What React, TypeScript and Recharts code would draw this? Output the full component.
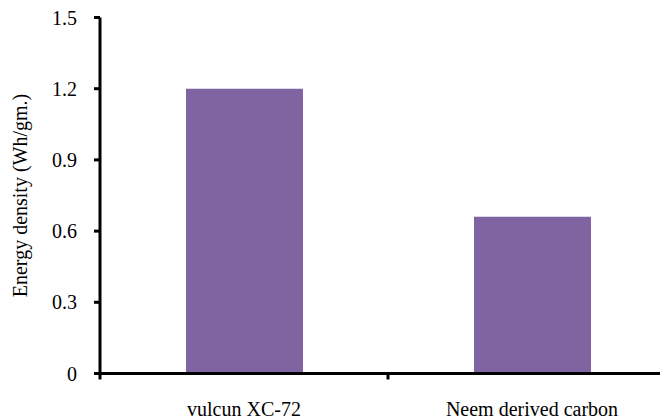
import React from 'react'
import { BarChart, Bar, XAxis, YAxis, Label } from 'recharts'

const categories = ['vulcun XC-72', 'Neem derived carbon']
const energyDensity = [1.2, 0.66]
const yTicks = [0, 0.3, 0.6, 0.9, 1.2, 1.5]

const data = categories.map((name, i) => ({ name, value: energyDensity[i] }))

const FONT = "'Liberation Serif', 'Times New Roman', Times, serif"
const BAND = 288

// category label + tick mark at the left edge of each band
function CategoryTick(props: any) {
  const { x, y, payload } = props
  return (
    <g>
      <line x1={x - BAND / 2} y1={y - 1} x2={x - BAND / 2} y2={y + 6} stroke="#000" strokeWidth={3} />
      <text x={x} y={y + 42} textAnchor="middle" style={{ fontFamily: FONT, fontSize: 20 }} fill="#000">
        {payload.value}
      </text>
    </g>
  )
}

export default function App() {
  return (
    <div style={{ width: 660, height: 411, overflow: 'hidden', fontFamily: FONT }}>
      <BarChart
        width={680}
        height={411}
        data={data}
        margin={{ top: 9.5, right: 12, left: 0, bottom: 1.5 }}
        style={{ fontFamily: FONT }}
      >
        <XAxis
          dataKey="name"
          height={44}
          axisLine={{ stroke: '#000', strokeWidth: 3 }}
          tickLine={false}
          tickSize={0}
          tickMargin={0}
          tick={<CategoryTick />}
          interval={0}
        />
        <YAxis
          width={92}
          domain={[0, 1.5]}
          ticks={yTicks}
          interval={0}
          axisLine={{ stroke: '#000', strokeWidth: 3 }}
          tickLine={{ stroke: '#000', strokeWidth: 3 }}
          tickSize={6}
          tickMargin={17}
          tickFormatter={(v: number) => (v === 0 ? '0' : v.toFixed(1))}
          tick={{ fontSize: 20, fill: '#000', style: { fontFamily: FONT } }}
        >
          <Label
            content={(p: any) => {
              const vb = p.viewBox
              const cx = 12
              const cy = vb.y + vb.height / 2
              return (
                <text
                  x={cx}
                  y={cy}
                  transform={`rotate(-90, ${cx}, ${cy})`}
                  textAnchor="middle"
                  dominantBaseline="central"
                  style={{ fontFamily: FONT, fontSize: 20 }}
                  fill="#000"
                >
                  Energy density (Wh/gm.)
                </text>
              )
            }}
          />
        </YAxis>
        <Bar dataKey="value" fill="#8064A2" barSize={117} isAnimationActive={false} />
      </BarChart>
    </div>
  )
}
